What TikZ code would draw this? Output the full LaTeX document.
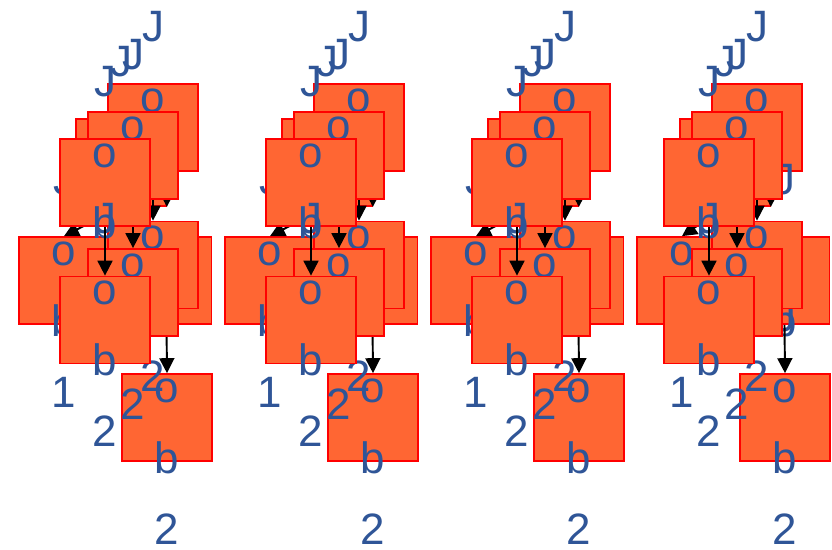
\documentclass[tikz,border=0pt]{standalone}
\usepackage{fontspec}
\setmainfont{Liberation Sans}
\usetikzlibrary{arrows.meta,positioning}
\definecolor{jobfill}{RGB}{255,102,51}
\definecolor{jobblue}{RGB}{47,85,151}

\begin{document}
\begin{tikzpicture}[x=0.02cm, y=-0.02cm,
  job/.style={rectangle, draw=red, fill=jobfill, line width=1pt, minimum width=1.8cm, minimum height=1.74cm, inner sep=0pt,
    label={[text=jobblue, font=\fontsize{25}{40.4}\selectfont, align=center, yshift=-0.1cm]center:{J\\o\\b\\#1}}},
  flow/.style={-{Triangle[width=8.5pt,length=8.5pt]}, line width=1.1pt}]
\useasboundingbox (0,0) rectangle (832,550);

\foreach \col/\ox/\oy in {1/0/0, 2/206/206, 3/412/412, 4/604/618} {
  \node[job=2] (ja\col) at (153+\ox,127.5) {};
  \node[job=2] (jb\col) at (121+\ox,162.5) {};
  \node[job=2] (jg\col) at (166.5+\oy,280.5) {};
  \node[job=2] (jj\col) at (167+\oy,417.5) {};
  \draw[flow] (jg\col.south) -- (jj\col.north);
  \node[job=1] (je\col) at (64+\oy,280.5) {};
  \node[job=2] (jf\col) at (153+\ox,265) {};
  \draw[flow] (ja\col.south) -- (jf\col.north);
  \draw[flow] (ja\col.south -| jb\col.south east) -- (jb\col.south east);
  \draw[flow] (jb\col.south) -- (je\col.north);
  \node[job=2] (jc\col) at (133+\ox,155.5) {};
  \node[job=2] (jh\col) at (133+\ox,292.5) {};
  \draw[flow] (jc\col.south) -- (jh\col.north);
  \node[job=2] (jd\col) at (105+\ox,182.5) {};
  \node[job=2] (ji\col) at (105+\ox,320) {};
  \draw[flow] (jd\col.south) -- (ji\col.north);
}
\end{tikzpicture}
\end{document}
